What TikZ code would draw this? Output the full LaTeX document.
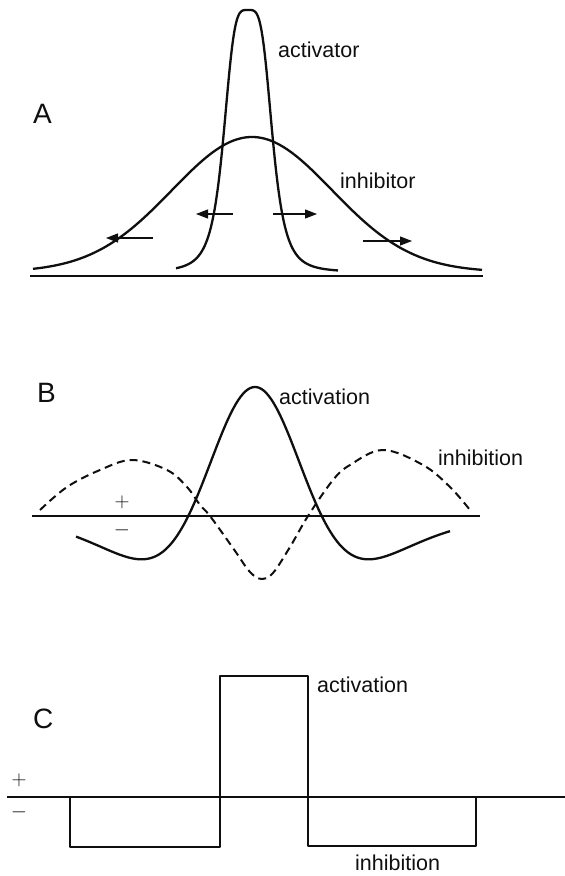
\documentclass[tikz,border=0pt]{standalone}
\usepackage{fontspec}
\setmainfont{Liberation Sans}
\usepackage{tikz}
\usetikzlibrary{arrows.meta,positioning}
\definecolor{ink}{RGB}{15,15,15}
\tikzset{
  curve/.style={ink,line width=2.3pt,line join=round},
  dcurve/.style={curve,line width=2pt,dash pattern=on 8pt off 5pt},
  axis/.style={ink,line width=2.2pt},
  lbl/.style={inner sep=0pt,anchor=base west,font=\fontsize{21.5}{21.5}\selectfont,text=ink},
  panel/.style={inner sep=0pt,anchor=base west,font=\fontsize{28}{28}\selectfont,text=ink},
  sgn/.style={inner sep=0pt,font=\fontsize{21}{21}\selectfont,text=ink},
  arr/.style={-{Triangle[length=12pt,width=9pt]},ink,line width=1.1pt},
}
\begin{document}
\begin{tikzpicture}[x=1pt,y=-1pt]
\useasboundingbox (0,0) rectangle (565,876);
% panel A
\node[panel] (pA) at (33,123) {A};
\draw[axis] (30,276) -- (483,276);
\draw[curve] plot[domain=176:338,samples=160] (\x,{272-262/(1+((\x-248)/25)^4)});
\draw[curve] plot[domain=33:482,samples=160] (\x,{272-135*exp(-0.5*((\x-252)/80)^2)});
\node[lbl] (act) at (278,57) {activator};
\node[lbl] (inh) at (340,188) {inhibitor};
\coordinate (a1) at (153,238); \coordinate (a1e) at (106,238);
\coordinate (a2) at (233,214); \coordinate (a2e) at (196,214);
\coordinate (a3) at (273,214); \coordinate (a3e) at (317,214);
\coordinate (a4) at (363,241); \coordinate (a4e) at (412,241);
\draw[arr] (a1) -- (a1e);
\draw[arr] (a2) -- (a2e);
\draw[arr] (a3) -- (a3e);
\draw[arr] (a4) -- (a4e);
% panel B
\node[panel] (pB) at (37,402) {B};
\draw[axis] (32,516) -- (480,516);
\draw[curve] plot[domain=76:450,samples=160]
  (\x,{516-239*exp(-0.5*((\x-255)/47)^2)+110*exp(-0.5*((\x-255)/98)^2)});
\draw[dcurve] plot[smooth,tension=0.6] coordinates {(40,510) (67,487) (100,470) (132,460)
  (167,470) (187,487) (200,505) (210,516) (233,548) (250,572) (262,579) (273,573)
  (290,547) (308,516) (333,480) (350,465) (383,450) (423,465) (450,487) (470,510)};
\node[lbl] (actB) at (279,404) {activation};
\node[lbl] (inhB) at (438,465) {inhibition};
\node[sgn] (pB+) at (122,502) {$+$};
\node[sgn] (pB-) at (122,530) {$-$};
% panel C
\node[panel] (pC) at (33,728) {C};
\draw[axis] (7,797) -- (565,797);
\draw[curve] (70,797) -- (70,847) -- (220,847) -- (220,676) -- (308,676)
  -- (308,846) -- (476,846) -- (476,797);
\node[lbl] (actC) at (317,692) {activation};
\node[lbl] (inhC) at (355,870) {inhibition};
\node[sgn] (pC+) at (19,780) {$+$};
\node[sgn] (pC-) at (19,812) {$-$};
\end{tikzpicture}
\end{document}
